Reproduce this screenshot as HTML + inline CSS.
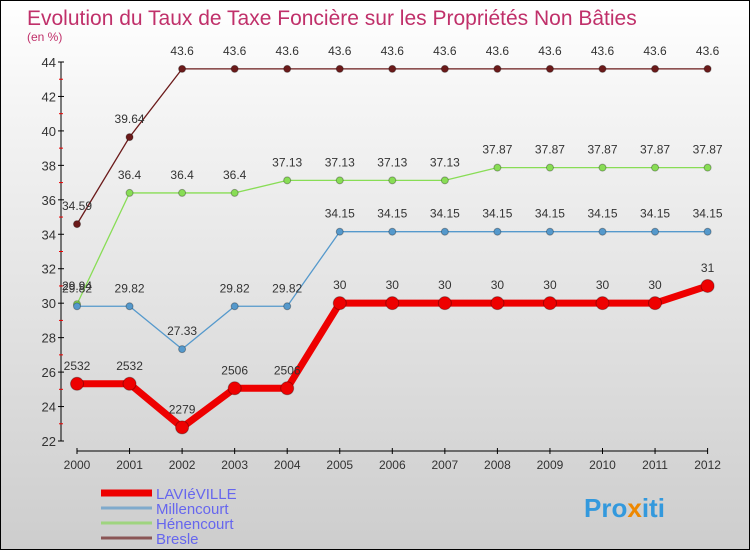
<!DOCTYPE html>
<html><head><meta charset="utf-8"><style>
body{margin:0}
#c{width:750px;height:550px;position:relative;box-sizing:border-box;border:1px solid #000;background:linear-gradient(#fff,#f4f4f4 20%,#cdcdcd);font-family:"Liberation Sans",sans-serif;overflow:hidden}
svg text{font-family:"Liberation Sans",sans-serif}
</style></head><body>
<div id="c">
<svg id="s" width="750" height="550">
<text x="26" y="24" font-size="21" fill="#c0306a">Evolution du Taux de Taxe Foncière sur les Propriétés Non Bâties</text>
<text x="26" y="40" font-size="12" fill="#c0306a">(en %)</text>
<text x="583" y="516" font-size="26" font-weight="bold" fill="#3399dd">Pro<tspan fill="#ee8800">x</tspan>iti</text>
</svg>
</div>
<script>
const years=[2000,2001,2002,2003,2004,2005,2006,2007,2008,2009,2010,2011,2012];
const lavieville=[25.32,25.32,22.79,25.06,25.06,30,30,30,30,30,30,30,31];
const lavLabels=["2532","2532","2279","2506","2506","30","30","30","30","30","30","30","31"];
const millencourt=[29.82,29.82,27.33,29.82,29.82,34.15,34.15,34.15,34.15,34.15,34.15,34.15,34.15];
const henencourt=[29.94,36.4,36.4,36.4,37.13,37.13,37.13,37.13,37.87,37.87,37.87,37.87,37.87];
const bresle=[34.59,39.64,43.6,43.6,43.6,43.6,43.6,43.6,43.6,43.6,43.6,43.6,43.6];
const yTicks=[22,24,26,28,30,32,34,36,38,40,42,44];
const seriesNames=["LAVIéVILLE","Millencourt","Hénencourt","Bresle"];

const s=document.getElementById('s');const NS="http://www.w3.org/2000/svg";
function el(t,a,p){const e=document.createElementNS(NS,t);for(const k in a)e.setAttribute(k,a[k]);(p||s).appendChild(e);return e;}
const X=i=>76+i*52.55;
const Y=v=>440-(v-22)*(379/22);
// axes
let ya=el('line',{x1:60,y1:61,x2:60,y2:440,stroke:'#000','stroke-width':1});

yTicks.forEach((v,i)=>{
  el('line',{x1:57,x2:63,y1:Y(v),y2:Y(v),stroke:'#000'});
  if(i<yTicks.length-1)el('line',{x1:58,x2:62,y1:Y(v+1),y2:Y(v+1),stroke:'#e00'});
  const t=el('text',{x:55,y:Y(v)+5,'font-size':13,fill:'#333','text-anchor':'end'});t.textContent=v;
  
});
let xa=el('line',{x1:76,y1:450,x2:X(12),y2:450,stroke:'#000'});

years.forEach((y,i)=>{
  el('line',{x1:X(i),x2:X(i),y1:447,y2:453,stroke:'#000'});
  const t=el('text',{x:X(i),y:468,'font-size':12,fill:'#333','text-anchor':'middle'});t.textContent=y;
  
});
function series(data,labels,color,lw,r,name){
  const g=el('g',{});
  
  el('polyline',{points:data.map((v,i)=>X(i)+','+Y(v)).join(' '),fill:'none',stroke:color,'stroke-width':lw,'stroke-linejoin':'round'},g);
  data.forEach((v,i)=>{
    const c=el('circle',{cx:X(i),cy:Y(v),r:r,fill:color,stroke:'rgba(0,0,0,0.3)','stroke-width':1},g);
    
    const t=el('text',{x:X(i),y:Y(v)-14,'font-size':12,fill:'#333','text-anchor':'middle'},g);
    t.textContent=labels?labels[i]:v;
    
  });
}
series(bresle,null,'#6b1a1a',1.3,3.5,'bresle');
series(henencourt,null,'#88dd55',1.3,3.5,'henencourt');
series(millencourt,null,'#5599cc',1.3,3.5,'millencourt');
series(lavieville,lavLabels,'#ee0000',7,6.5,'lavieville');
// legend
const lc=['#ee0000','#7faacc','#9fd47f','#8a5555'],lw=[7,3,3,3];
seriesNames.forEach((n,i)=>{
  const y=492+i*15;
  const l=el('line',{x1:100,x2:151,y1:y,y2:y,stroke:lc[i],'stroke-width':lw[i]});
  
  const t=el('text',{x:155,y:y+6,'font-size':15,fill:'#6666ee'});t.textContent=n;
  
});
</script>
</body></html>
